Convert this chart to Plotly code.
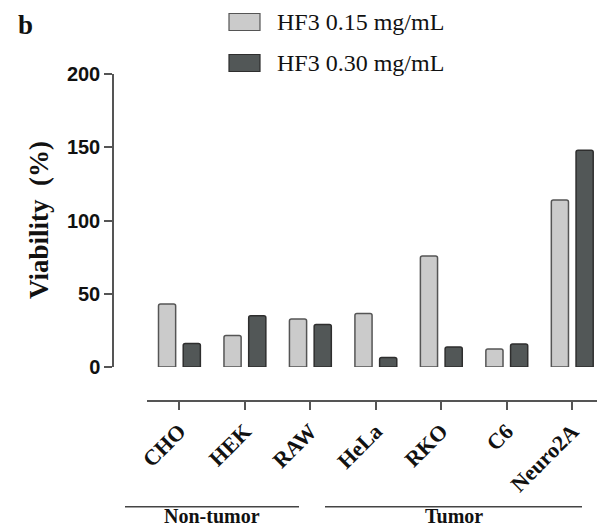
import plotly.graph_objects as go

cells = ["CHO", "HEK", "RAW", "HeLa", "RKO", "C6", "Neuro2A"]
hf3_015 = [43, 21.5, 32.7, 36.5, 75.8, 12.3, 114]
hf3_030 = [16, 35, 29, 6.4, 13.7, 15.7, 148]
series_names = ["HF3 0.15 mg/mL", "HF3 0.30 mg/mL"]
y_ticks = [0, 50, 100, 150, 200]
groups = [("Non-tumor", 0, 2), ("Tumor", 3, 6)]

OFF = 8  # default page body margin
W, H = 597, 521
ML, MR, MT, MB = 105, 0, 66, 128
PW = W - ML - MR
PH = H - MT - MB

def px_x(x):
    return (x - OFF - ML) / PW

def px_y(y):
    return (H - MB - (y - OFF)) / PH

light_fill, light_line = "#cbcbcb", "#555555"
dark_fill, dark_line = "#525757", "#2e2e2e"

fig = go.Figure()
fig.add_trace(go.Bar(x=list(range(len(cells))), y=hf3_015, name=series_names[0],
                     marker=dict(color=light_fill, line=dict(color=light_line, width=1.5), cornerradius=2),
                     showlegend=False))
fig.add_trace(go.Bar(x=list(range(len(cells))), y=hf3_030, name=series_names[1],
                     marker=dict(color=dark_fill, line=dict(color=dark_line, width=1.5), cornerradius=2),
                     showlegend=False))

serif = "Liberation Serif, Times New Roman, serif"
sans = "Liberation Sans, Arial, sans-serif"

x_start = px_x(146.7)
fig.update_layout(
    width=W, height=H,
    margin=dict(l=ML, r=MR, t=MT, b=MB, pad=0, autoexpand=False),
    paper_bgcolor="white", plot_bgcolor="white",
    barmode="group", bargap=0.245, bargroupgap=0.306,
    xaxis=dict(domain=[x_start, 1], range=[-0.5, 6.5], tickmode="array",
               tickvals=list(range(len(cells))), ticktext=[f"<b>{c}</b>" for c in cells],
               tickangle=-45, ticks="outside", ticklen=8, tickwidth=1.5, tickcolor="#555555",
               showline=True, linecolor="#555555", linewidth=1.5, showgrid=False, zeroline=False,
               anchor="free", position=0, automargin=False,
               tickfont=dict(family=serif, size=22, color="#111111")),
    yaxis=dict(domain=[34 / PH, 1], range=[0, 200], tickmode="array", tickvals=y_ticks,
               ticktext=[f"<b>{t}</b>" for t in y_ticks],
               ticks="outside", ticklen=8, tickwidth=1.5, tickcolor="#555555",
               showline=True, linecolor="#555555", linewidth=1.5, showgrid=False, zeroline=False,
               anchor="free", position=0, automargin=False,
               tickfont=dict(family=sans, size=20, color="#111111")),
)

ann = []
shapes = []

def note(text, x, y, size, xanchor="center", angle=0):
    ann.append(dict(text=text, x=px_x(x), y=px_y(y), xref="paper", yref="paper",
                    xanchor=xanchor, yanchor="middle", textangle=angle, showarrow=False,
                    font=dict(family=serif, size=size, color="#111111")))

# y title
note("<b>Viability  (%)</b>", 39, 220, 27, angle=-90)
# panel letter
note("<b>b</b>", 25, 25, 27)
# legend
leg_fills = [(light_fill, light_line), (dark_fill, dark_line)]
for i, (nm, (fc, lc)) in enumerate(zip(series_names, leg_fills)):
    cy = 22 + i * 41
    shapes.append(dict(type="rect", xref="paper", yref="paper",
                       x0=px_x(229), x1=px_x(260), y0=px_y(cy - 8.5), y1=px_y(cy + 8.5),
                       fillcolor=fc, line=dict(color=lc, width=1.2)))
    note(nm, 275, cy, 24, xanchor="left")
# group brackets
bracket_px = {"Non-tumor": (125, 299), "Tumor": (325, 582)}
for name, a, b in groups:
    x0, x1 = bracket_px[name]
    shapes.append(dict(type="line", xref="paper", yref="paper", x0=px_x(x0), x1=px_x(x1),
                       y0=px_y(506.7), y1=px_y(506.7), line=dict(color="#444444", width=1.5)))
    note(f"<b>{name}</b>", (x0 + x1) / 2, 516, 20)

fig.update_layout(annotations=ann, shapes=shapes)
fig.write_html("out.html")
